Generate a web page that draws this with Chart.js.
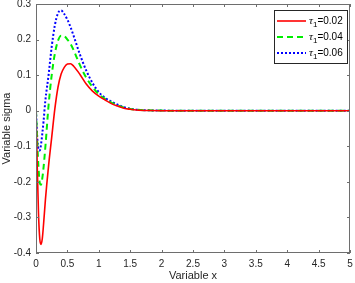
<!DOCTYPE html>
<html>
<head>
<meta charset="utf-8">
<script src="https://cdn.jsdelivr.net/npm/chart.js@4.4.1/dist/chart.umd.min.js"></script>
<style>
  html, body { margin: 0; padding: 0; background: #fff; }
  #wrap { width: 355px; height: 283px; }
</style>
</head>
<body>
<div id="wrap"><canvas id="chart"></canvas></div>
<script>
// values
const xValues = [0, 0.02, 0.04, 0.06, 0.08, 0.1, 0.12, 0.15, 0.2, 0.25, 0.3, 0.35, 0.4, 0.45, 0.5, 0.55, 0.6, 0.7, 0.8, 0.9, 1.0, 1.1, 1.2, 1.3, 1.4, 1.5, 1.6, 1.8, 2.0, 2.5, 3.0, 3.5, 4.0, 4.5, 5.0];
const sigmaTau002 = [0, -0.16, -0.29, -0.36, -0.376, -0.36, -0.32, -0.25, -0.155, -0.075, 0.005, 0.066, 0.103, 0.122, 0.131, 0.132, 0.125, 0.102, 0.075, 0.055, 0.041, 0.03, 0.02, 0.013, 0.007, 0.004, 0.002, 0.0005, 0.0001, 0, 0, 0, 0, 0, 0];
const sigmaTau004 = [0, -0.09, -0.16, -0.203, -0.208, -0.19, -0.16, -0.1, 0.015, 0.1, 0.16, 0.197, 0.211, 0.21, 0.2, 0.188, 0.17, 0.128, 0.093, 0.067, 0.046, 0.033, 0.023, 0.015, 0.009, 0.005, 0.003, 0.001, 0.0003, 0, 0, 0, 0, 0, 0];
const sigmaTau006 = [0, -0.075, -0.108, -0.112, -0.095, -0.065, -0.03, 0.03, 0.1, 0.18, 0.24, 0.274, 0.282, 0.272, 0.256, 0.235, 0.21, 0.158, 0.113, 0.078, 0.052, 0.036, 0.026, 0.017, 0.01, 0.006, 0.003, 0.001, 0.0004, 0, 0, 0, 0, 0, 0];
const tauValues = ['0.02', '0.04', '0.06'];
const xTicks = [0, 0.5, 1, 1.5, 2, 2.5, 3, 3.5, 4, 4.5, 5];
const yTicks = [-0.4, -0.3, -0.2, -0.1, 0, 0.1, 0.2, 0.3];

const axisColor = '#262626';
const font = '"Liberation Sans", Arial, sans-serif';
const toPoints = ys => ys.map((y, i) => ({ x: xValues[i], y }));

// matlab-like box, inward ticks and legend inside the axes
const matlabFrame = {
    id: 'matlabFrame',
    afterDraw(chart) {
        const ctx = chart.ctx, ca = chart.chartArea;
        const xs = chart.scales.x, ys = chart.scales.y;
        ctx.save();
        ctx.strokeStyle = '#6e6e6e';
        ctx.lineWidth = 1;
        ctx.strokeRect(Math.round(ca.left) + 0.5, Math.round(ca.top) + 0.5, Math.round(ca.right - ca.left) - 1, Math.round(ca.bottom - ca.top) - 1);
        ctx.beginPath();
        xTicks.forEach(v => {
            const px = Math.round(xs.getPixelForValue(v)) + 0.5;
            ctx.moveTo(px, ca.bottom); ctx.lineTo(px, ca.bottom - 3);
            ctx.moveTo(px, ca.top); ctx.lineTo(px, ca.top + 3);
        });
        yTicks.forEach(v => {
            const py = Math.round(ys.getPixelForValue(v)) + 0.5;
            ctx.moveTo(ca.left, py); ctx.lineTo(ca.left + 3, py);
            ctx.moveTo(ca.right, py); ctx.lineTo(ca.right - 3, py);
        });
        ctx.stroke();

        // legend
        const bw = 73, bh = 53;
        const bx = Math.round(ca.right) - bw - 3, by = Math.round(ca.top) + 6;
        ctx.fillStyle = '#fff';
        ctx.fillRect(bx, by, bw, bh);
        ctx.strokeStyle = axisColor;
        ctx.strokeRect(bx + 0.5, by + 0.5, bw, bh);
        chart.data.datasets.forEach((ds, i) => {
            const ry = by + 11 + i * 16;
            ctx.beginPath();
            ctx.strokeStyle = ds.borderColor;
            ctx.lineWidth = ds.borderWidth;
            ctx.setLineDash(ds.borderDash || []);
            ctx.moveTo(bx + 3, ry); ctx.lineTo(bx + 32, ry);
            ctx.stroke();
            ctx.setLineDash([]);
            ctx.fillStyle = '#000';
            ctx.textBaseline = 'middle';
            let tx = bx + 35;
            ctx.font = 'italic 11px "Liberation Serif", serif';
            ctx.fillText('τ', tx, ry);
            tx += ctx.measureText('τ').width;
            ctx.font = '8px ' + font;
            ctx.fillText('1', tx, ry + 4);
            tx += ctx.measureText('1').width;
            ctx.font = '10px ' + font;
            ctx.fillText('=' + tauValues[i], tx, ry);
        });
        ctx.restore();
    }
};

new Chart(document.getElementById('chart'), {
    type: 'line',
    data: {
        datasets: [
            { label: 'tau1=' + tauValues[0], data: toPoints(sigmaTau002), borderColor: '#ff0000', borderWidth: 1.6, borderDash: [] },
            { label: 'tau1=' + tauValues[1], data: toPoints(sigmaTau004), borderColor: '#00ee00', borderWidth: 2, borderDash: [6, 4] },
            { label: 'tau1=' + tauValues[2], data: toPoints(sigmaTau006), borderColor: '#0000ff', borderWidth: 2, borderDash: [2, 2] }
        ]
    },
    options: {
        responsive: true,
        maintainAspectRatio: false,
        animation: false,
        layout: { padding: { top: 4, right: 5, left: 0, bottom: 0 } },
        elements: { point: { radius: 0 }, line: { cubicInterpolationMode: 'monotone', fill: false } },
        plugins: { legend: { display: false }, tooltip: { enabled: false } },
        scales: {
            x: {
                type: 'linear', min: 0, max: 5,
                afterBuildTicks: s => { s.ticks = xTicks.map(v => ({ value: v })); },
                afterFit: s => { s.height = 30; s.paddingLeft = 0; s.paddingRight = 0; },
                grid: { display: false, drawTicks: false },
                border: { display: false },
                ticks: { color: axisColor, font: { family: font, size: 10 }, padding: 5, maxRotation: 0, callback: v => String(v) },
                title: { display: true, text: 'Variable x', color: axisColor, font: { family: font, size: 11 }, padding: { top: 0, bottom: 0 } }
            },
            y: {
                type: 'linear', min: -0.4, max: 0.3,
                afterBuildTicks: s => { s.ticks = yTicks.map(v => ({ value: v })); },
                afterFit: s => { s.width = 36; s.paddingTop = 0; s.paddingBottom = 0; },
                grid: { display: false, drawTicks: false },
                border: { display: false },
                ticks: { color: axisColor, font: { family: font, size: 10 }, padding: 5, callback: v => String(v) },
                title: { display: true, text: 'Variable sigma', color: axisColor, font: { family: font, size: 11 }, padding: { top: 0, bottom: 0 } }
            }
        }
    },
    plugins: [matlabFrame]
});
</script>
</body>
</html>
